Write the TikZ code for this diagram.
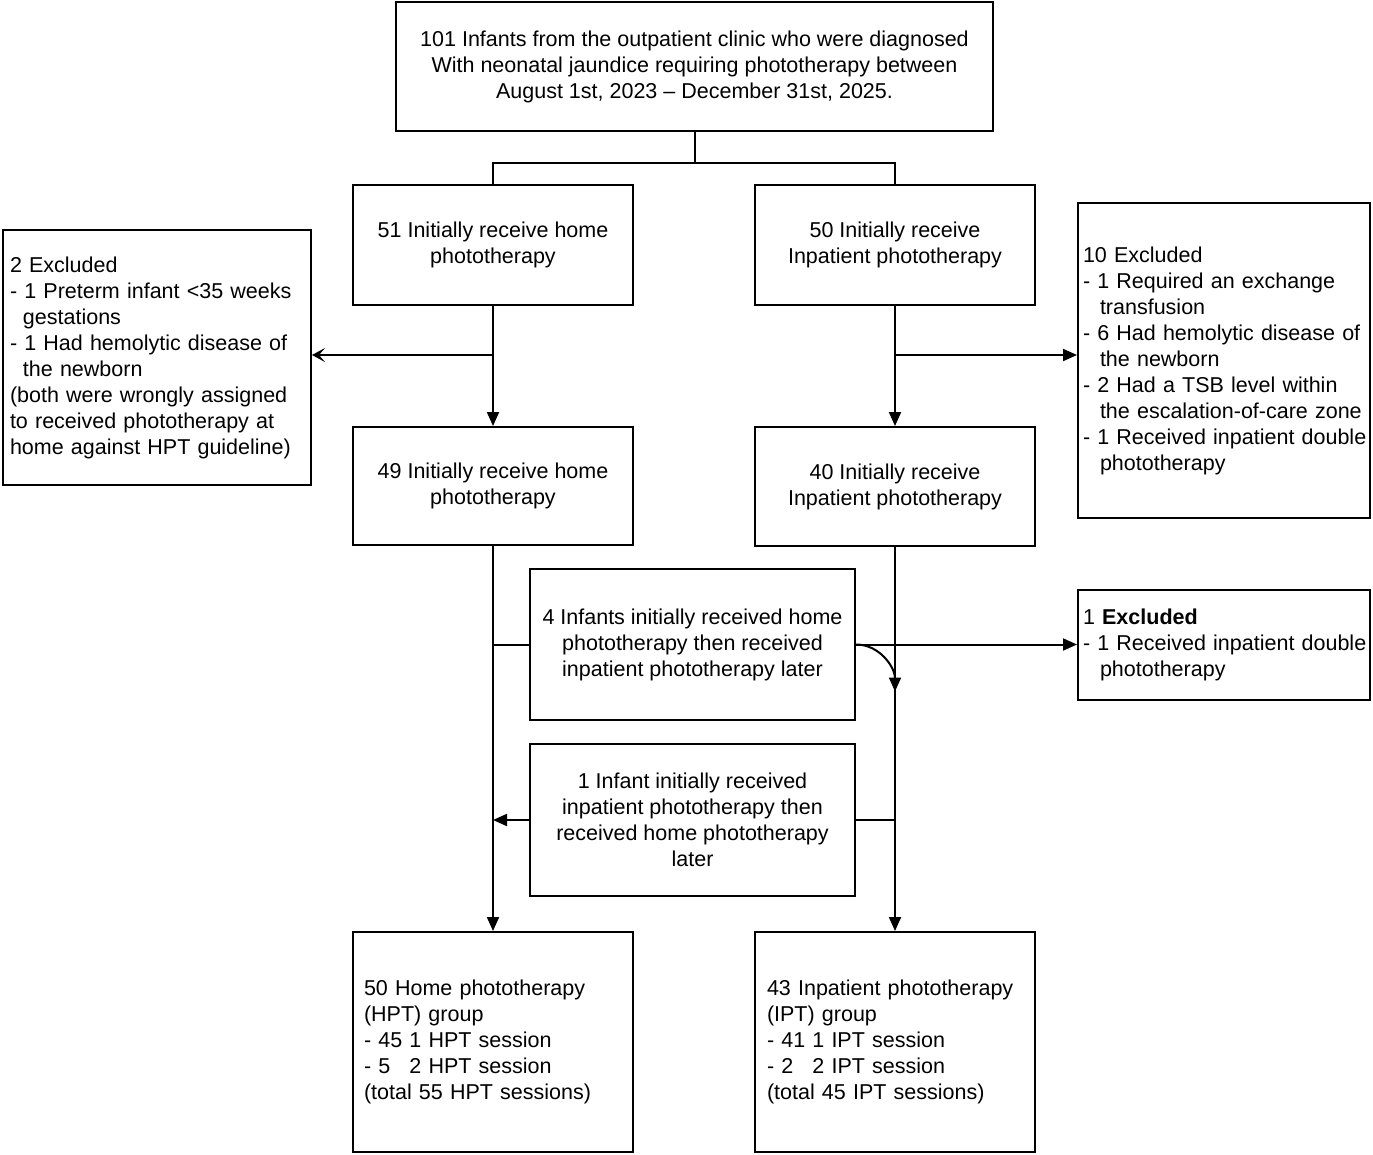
\documentclass[tikz,border=0pt]{standalone}
\usepackage{fontspec}
\setmainfont{Liberation Sans}
\usetikzlibrary{arrows.meta,calc}
\begin{document}
\begin{tikzpicture}[x=1pt,y=-1pt,
  txt/.style={font=\fontsize{21.5}{26}\selectfont},
  box/.style={txt,draw,line width=2pt,inner sep=0pt,align=center},
  lbox/.style={txt,draw,line width=2pt,inner ysep=0pt,align=left},
  conn/.style={line width=2pt},
  arr/.style={conn,-{Triangle[length=14pt,width=12pt]}},
  sarr/.style={conn,-{Stealth[length=13pt,width=14pt,inset=6pt]}},
]
\useasboundingbox (0,0) rectangle (1373,1154);

\node[box,minimum width=597pt,minimum height=129pt] (top) at (694.5,66.5)
  {101 Infants from the outpatient clinic who were diagnosed\\With neonatal jaundice requiring phototherapy between\\August 1st, 2023 – December 31st, 2025.};

\node[box,minimum width=280pt,minimum height=120pt] (H1) at (493,245)
  {51 Initially receive home\\phototherapy};
\node[box,minimum width=280pt,minimum height=120pt] (I1) at (895,245)
  {50 Initially receive\\Inpatient phototherapy};

\node[lbox,inner xsep=7pt,text width=294pt,minimum height=255pt] (Lex) at (157,357.5)
  {2 Excluded\\
   \mbox{- 1 Preterm infant <35 weeks}\\
   \hspace*{13pt}gestations\\
   \mbox{- 1 Had hemolytic disease of}\\
   \hspace*{13pt}the newborn\\
   \mbox{(both were wrongly assigned}\\
   \mbox{to received phototherapy at}\\
   \mbox{home against HPT guideline)}};

\node[lbox,inner xsep=5pt,text width=282pt,minimum height=315pt] (Rex) at (1224,360.5)
  {10 Excluded\\
   \mbox{- 1 Required an exchange}\\
   \hspace*{17pt}transfusion\\
   \mbox{- 6 Had hemolytic disease of}\\
   \hspace*{17pt}the newborn\\
   \mbox{- 2 Had a TSB level within}\\
   \mbox{\hspace*{17pt}the escalation-of-care zone}\\
   \mbox{- 1 Received inpatient double}\\
   \hspace*{17pt}phototherapy};

\node[box,minimum width=280pt,minimum height=118pt] (H2) at (493,486)
  {49 Initially receive home\\phototherapy};
\node[box,minimum width=280pt,minimum height=119pt] (I2) at (895,486.5)
  {40 Initially receive\\Inpatient phototherapy};

\node[box,minimum width=325pt,minimum height=151pt] (b4) at (692.5,644.5)
  {4 Infants initially received home\\phototherapy then received\\inpatient phototherapy later};

\node[lbox,inner xsep=5pt,text width=282pt,minimum height=110pt] (ex1) at (1224,645)
  {1 \textbf{Excluded}\\
   \mbox{- 1 Received inpatient double}\\
   \hspace*{17pt}phototherapy};

\node[box,minimum width=325pt,minimum height=152pt] (b1) at (692.5,820)
  {1 Infant initially received\\inpatient phototherapy then\\received home phototherapy\\later};

\node[lbox,inner xsep=11pt,text width=258pt,minimum height=220pt] (HPT) at (493,1042)
  {50 Home phototherapy\\
   (HPT) group\\
   - 45 1 HPT session\\
   - 5\hspace{12pt} 2 HPT session\\
   (total 55 HPT sessions)};
\node[lbox,inner xsep=12pt,text width=256pt,minimum height=220pt] (IPT) at (895,1042)
  {43 Inpatient phototherapy\\
   (IPT) group\\
   - 41 1 IPT session\\
   - 2\hspace{12pt} 2 IPT session\\
   (total 45 IPT sessions)};

% top split
\coordinate (jt) at (694.5,163);
\draw[conn] (top.south) -- (jt);
\draw[conn] (H1.north) |- (jt) -| (I1.north);

% first level
\draw[arr] (H1.south) -- (H2.north);
\coordinate (jl) at (493,355);
\draw[sarr] (jl) -- (jl -| Lex.east);
\draw[arr] (I1.south) -- (I2.north);
\coordinate (jr) at (895,355);
\draw[arr] (jr) -- (jr -| Rex.west);

% main columns
\draw[arr] (H2.south) -- (HPT.north);
\draw[arr] (I2.south) -- (IPT.north);

% crossover boxes
\draw[conn] (b4.west -| H2.south) -- (b4.west);
\draw[arr] (b4.east) -- (b4.east -| ex1.west);
\draw[arr] (b4.east) to[out=0,in=90] ($(b4.east -| I2.south)+(0,47)$);
\draw[conn] (b1.east) -- (b1.east -| I2.south);
\draw[arr] (b1.west) -- (b1.west -| H2.south);
\end{tikzpicture}
\end{document}
